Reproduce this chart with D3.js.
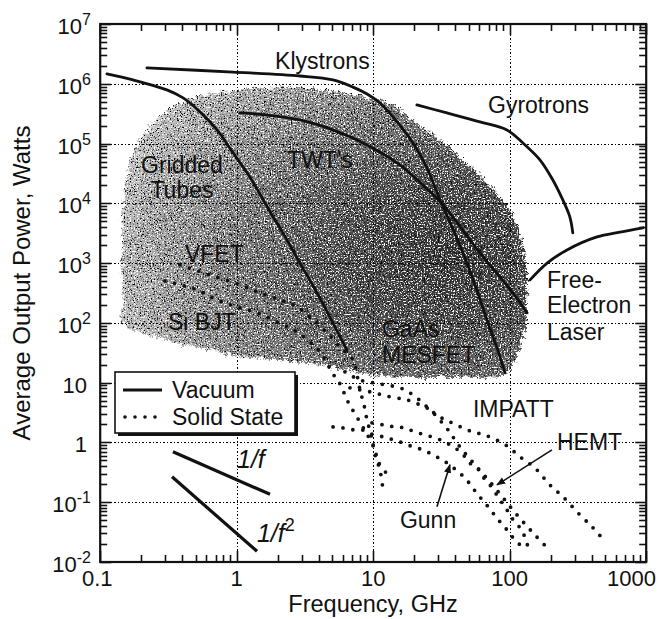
<!DOCTYPE html>
<html>
<head>
<meta charset="utf-8">
<script src="https://cdn.jsdelivr.net/npm/d3@7"></script>
<style>
  html, body { margin: 0; padding: 0; background: #fff; }
  svg { display: block; }
  text { font-family: "Liberation Sans", Arial, Helvetica, sans-serif; fill: #111; }
</style>
</head>
<body>
<svg id="chart" width="661" height="619"></svg>
<script>
// ---- Axis ticks ----
const freqTicks = [0.1, 1, 10, 100, 1000];
const freqTickLabels = ["0.1", "1", "10", "100", "1000"];
const powerTicks = [1e-2, 1e-1, 1, 10, 1e2, 1e3, 1e4, 1e5, 1e6, 1e7];
const powerTickLabels = ["10^-2", "10^-1", "1", "10", "10^2", "10^3", "10^4", "10^5", "10^6", "10^7"];

// ---- Vacuum devices: [frequency GHz, average power W] ----
const griddedTubes = [[0.112,1.46e6],[0.174,1.16e6],[0.308,7.9e5],[0.405,5.8e5],[0.538,3.4e5],[0.718,1.69e5],
  [0.94,7.0e4],[1.25,2.76e4],[1.85,5.9e3],[2.18,3.2e3],[2.91,1.0e3],[3.88,318],[5.07,100],[6.43,35]];
const klystrons = [[0.22,1.84e6],[0.94,1.57e6],[2.91,1.35e6],[5.07,1.16e6],[7.11,8.8e5],[9.02,6.75e5],[11.2,4.77e5],
  [13.96,2.8e5],[19.6,1.02e5],[24.8,3.9e4],[30.9,1.14e4],[37.8,4.03e3],[45.5,1.48e3],[55.7,432],[68.2,112],[80.7,38.2],[92.5,14.6]];
const twts = [[1.06,3.25e5],[1.67,3.0e5],[2.91,2.48e5],[5.07,1.69e5],[9.02,9.5e4],[15.7,4.4e4],[19.6,2.87e4],
  [32.4,9.4e3],[60.5,1.48e3],[105.6,318],[134,147]];
const gyrotrons = [[20.9,4.42e5],[34.7,3.25e5],[60.5,2.3e5],[95.4,1.69e5],[125,1.02e5],[167,5.3e4],[207,2.46e4],
  [245,1.14e4],[276,5.9e3],[290,3.2e3]];
const freeElectronLaser = [[141,524],[188,1.0e3],[263,1.66e3],[436,2.74e3],[643,3.3e3],[948,3.9e3]];

// ---- Solid-state devices ----
const vfet = [[0.384,933],[0.637,635],[1.057,432],[1.48,318],[2.08,243],[2.77,185],[3.44,126],[4.59,68],[5.71,39.7],
  [7.11,24],[7.61,13.5],[8.0,7.6],[8.56,4.26],[9.01,2.39],[9.63,1.34],[10.3,0.62],[11.2,0.348],[11.8,0.161]];
const siBjt = [[0.298,504],[0.512,356],[0.717,243],[1.005,185],[1.408,147],[1.97,104],[2.77,70.6],[3.44,48],[4.08,32.7],
  [5.08,14],[5.71,9.55],[6.54,4.78],[7.74,2.48],[9.16,1.29],[10.3,0.78],[10.8,0.49],[12.8,0.287]];
const impatt = [[6.21,15.2],[8.0,11.1],[11.2,9.55],[16.5,7.87],[21.3,5.36],[24.8,3.94],[29.8,2.79],[36.5,2.21],[51.2,1.56],
  [68.2,1.29],[95.5,0.877],[119,0.574],[153,0.376],[197,0.195],[246,0.123],[327,0.0615],[408,0.0373],[474,0.0254]];
const gaasMesfet = [[6.76,8.19],[9.48,7.02],[13.3,5.79],[17.7,5.16],[22.0,4.26],[26.1,3.51],[29.3,2.68],[35.3,1.63],
  [43.2,0.843],[55.7,0.422],[71.7,0.219],[89.3,0.119],[113,0.0615],[148,0.0308],[188,0.0173]];
const hemt = [[9.8,2.13],[11.8,1.97],[14.4,1.82],[17.1,1.75],[20.2,1.5],[24.0,1.34],[28.4,1.19],[33.6,1.02],[38.4,0.843],
  [44.7,0.67],[49.5,0.474],[57.6,0.376],[63.7,0.266],[71.7,0.195],[84.9,0.11],[95.5,0.0746],[106,0.0508],[119,0.0373],
  [129,0.0264],[136,0.0179]];
const gunn = [[5.08,1.82],[6.0,1.75],[7.11,1.63],[8.28,1.63],[9.16,1.45],[11.8,1.24],[14.0,1.11],[16.5,0.984],[19.6,0.843],
  [23.2,0.751],[27.4,0.62],[31.9,0.512],[36.5,0.422],[41.8,0.322],[47.0,0.256],[52.9,0.181],[58.6,0.133],[65.9,0.0977],
  [74.2,0.069],[84.9,0.047],[95.5,0.0345],[106,0.0254],[119,0.0194]];

// ---- Reference slopes ----
const slopeInvF = [[0.341,0.697],[1.754,0.1355]];
const slopeInvF2 = [[0.336,0.266],[1.409,0.0151]];

// ---- Region covered by present-day devices (outline) ----
const coverage = [[0.1444,1663],[0.1444,5272],[0.1494,1.38e4],[0.1599,3.62e4],[0.1769,7.82e4],[0.2024,1.29e5],
  [0.2395,2.05e5],[0.3086,3.51e5],[0.418,5.15e5],[0.538,6.25e5],[0.94,7.58e5],[1.667,8.51e5],[2.909,8.51e5],
  [5.076,7.58e5],[9.01,6.01e5],[13.28,4.59e5],[19.56,2.48e5],[34.7,9.12e4],[60.6,2.87e4],[95.5,9.06e3],
  [119,2.85e3],[131.7,769],[133.9,216],[125.2,63],[105.7,19.9],[84.9,13],[51.2,12],[30.9,12],[18.6,12],
  [11.2,13],[6.76,15.7],[3.44,21.4],[1.973,24],[1.112,27],[0.637,35.3],[0.365,46.3],[0.206,68.1],
  [0.1469,96.2],[0.1469,243],[0.1444,635]];

// ---- Layout ----
const svg = d3.select("#chart");
const plotL = 100.2, plotR = 646.2, plotT = 24, plotB = 562;
const x = d3.scaleLog().domain([0.1, 1000]).range([plotL, plotR]);
const y = d3.scaleLog().domain([1e-2, 1e7]).range([plotB, plotT]);
const ink = "#111";
const px = v => Math.round(v) + 0.5;

const defs = svg.append("defs");
const grad = defs.append("radialGradient").attr("id", "shade")
  .attr("cx", 0.8).attr("cy", 0.58).attr("r", 0.85);
[[0, "#333"], [0.3, "#4b4b4b"], [0.6, "#777"], [0.85, "#a4a4a4"], [1, "#c2c2c2"]].forEach(s =>
  grad.append("stop").attr("offset", s[0]).attr("stop-color", s[1]));

// stippled texture and ragged edge for the shaded region
const grain = defs.append("filter").attr("id", "grain")
  .attr("x", "-4%").attr("y", "-4%").attr("width", "108%").attr("height", "108%")
  .attr("color-interpolation-filters", "sRGB");
grain.append("feTurbulence").attr("type", "fractalNoise").attr("baseFrequency", 0.7)
  .attr("numOctaves", 2).attr("seed", 11).attr("result", "noise");
grain.append("feTurbulence").attr("type", "fractalNoise").attr("baseFrequency", 0.25)
  .attr("numOctaves", 2).attr("seed", 5).attr("result", "warp");
grain.append("feDisplacementMap").attr("in", "SourceGraphic").attr("in2", "warp").attr("scale", 10)
  .attr("xChannelSelector", "R").attr("yChannelSelector", "G").attr("result", "shifted");
grain.append("feDisplacementMap").attr("in", "shifted").attr("in2", "noise").attr("scale", 5)
  .attr("xChannelSelector", "R").attr("yChannelSelector", "G").attr("result", "base");
grain.append("feColorMatrix").attr("in", "noise").attr("type", "matrix")
  .attr("values", "0 0 0 0 1  0 0 0 0 1  0 0 0 0 1  6 0 0 0 -3.2").attr("result", "light");
grain.append("feComposite").attr("in", "light").attr("in2", "base").attr("operator", "in").attr("result", "lightIn");
grain.append("feColorMatrix").attr("in", "noise").attr("type", "matrix")
  .attr("values", "0 0 0 0 0  0 0 0 0 0  0 0 0 0 0  0 6 0 0 -3.3").attr("result", "dark");
grain.append("feComposite").attr("in", "dark").attr("in2", "base").attr("operator", "in").attr("result", "darkIn");
const merge = grain.append("feMerge");
["base", "darkIn", "lightIn"].forEach(n => merge.append("feMergeNode").attr("in", n));

const marker = defs.append("marker").attr("id", "arrow").attr("viewBox", "0 0 10 10")
  .attr("refX", 9).attr("refY", 5).attr("markerWidth", 9).attr("markerHeight", 9)
  .attr("markerUnits", "userSpaceOnUse").attr("orient", "auto");
marker.append("path").attr("d", "M0,1 L10,5 L0,9 Z").attr("fill", ink);

// shaded region
svg.append("path")
  .attr("d", d3.line().x(d => x(d[0])).y(d => y(d[1])).curve(d3.curveCatmullRomClosed.alpha(0.5))(coverage))
  .attr("fill", "url(#shade)").attr("filter", "url(#grain)");

// dotted decade grid
const grid = svg.append("g").attr("stroke", "#000").attr("stroke-width", 1)
  .attr("stroke-dasharray", "1.5 2").attr("shape-rendering", "crispEdges");
freqTicks.slice(1, -1).forEach(v =>
  grid.append("line").attr("x1", px(x(v))).attr("x2", px(x(v))).attr("y1", plotT).attr("y2", plotB));
powerTicks.slice(1, -1).forEach(v =>
  grid.append("line").attr("y1", px(y(v))).attr("y2", px(y(v))).attr("x1", plotL).attr("x2", plotR));

// inward ticks on all four sides (minor at 2..9 of each decade, longer at decades)
function minorVals(lo, hi) {
  const out = [];
  for (let e = lo; e < hi; e++) for (let m = 2; m <= 9; m++) out.push(m * Math.pow(10, e));
  return out;
}
const xTickMarks = minorVals(-1, 3).map(v => [v, 7]).concat(freqTicks.map(v => [v, 11]));
const yTickMarks = minorVals(-2, 7).map(v => [v, 7]).concat(powerTicks.map(v => [v, 11]));
const ticks = svg.append("g").attr("stroke", ink).attr("stroke-width", 1.6);
ticks.selectAll("line.yl").data(yTickMarks).join("line").attr("class", "yl")
  .attr("x1", plotL).attr("x2", d => plotL + d[1]).attr("y1", d => px(y(d[0]))).attr("y2", d => px(y(d[0])));
ticks.selectAll("line.yr").data(yTickMarks).join("line").attr("class", "yr")
  .attr("x1", plotR).attr("x2", d => plotR - d[1]).attr("y1", d => px(y(d[0]))).attr("y2", d => px(y(d[0])));
ticks.selectAll("line.xb").data(xTickMarks).join("line").attr("class", "xb")
  .attr("y1", plotB).attr("y2", d => plotB - d[1]).attr("x1", d => px(x(d[0]))).attr("x2", d => px(x(d[0])));
ticks.selectAll("line.xt").data(xTickMarks).join("line").attr("class", "xt")
  .attr("y1", plotT).attr("y2", d => plotT + d[1]).attr("x1", d => px(x(d[0]))).attr("x2", d => px(x(d[0])));

svg.append("rect").attr("x", plotL).attr("y", plotT).attr("width", plotR - plotL).attr("height", plotB - plotT)
  .attr("fill", "none").attr("stroke", ink).attr("stroke-width", 2.2);

// device curves
const curve = d3.line().x(d => x(d[0])).y(d => y(d[1])).curve(d3.curveCatmullRom.alpha(0.5));
[griddedTubes, klystrons, twts, gyrotrons, freeElectronLaser].forEach(s =>
  svg.append("path").attr("d", curve(s)).attr("fill", "none").attr("stroke", ink)
    .attr("stroke-width", 2.8).attr("stroke-linecap", "round"));
[vfet, siBjt, impatt, gaasMesfet, hemt, gunn].forEach(s =>
  svg.append("path").attr("d", curve(s)).attr("fill", "none").attr("stroke", ink)
    .attr("stroke-width", 3.8).attr("stroke-linecap", "round").attr("stroke-dasharray", "0 10"));
[slopeInvF, slopeInvF2].forEach(s =>
  svg.append("path").attr("d", d3.line().x(d => x(d[0])).y(d => y(d[1]))(s)).attr("fill", "none")
    .attr("stroke", ink).attr("stroke-width", 3.2));

// tick labels
powerTicks.forEach((v, i) => {
  const [base, exp] = powerTickLabels[i].split("^");
  const t = svg.append("text").attr("text-anchor", "end").attr("font-size", 22)
    .attr("x", exp ? 91 : 87).attr("y", y(v) + 10);
  t.append("tspan").text(base);
  if (exp) t.append("tspan").attr("font-size", 16).attr("dy", -9).text(exp);
});
freqTicks.forEach((v, i) => {
  const last = i === freqTicks.length - 1;
  svg.append("text").attr("font-size", 22).attr("y", 586)
    .attr("text-anchor", last ? "end" : "middle")
    .attr("x", last ? 656 : (i === 0 ? x(v) - 3 : x(v)))
    .text(freqTickLabels[i]);
});

// axis titles
svg.append("text").attr("font-size", 23.5).attr("text-anchor", "middle")
  .attr("x", 373).attr("y", 612).text("Frequency, GHz");
svg.append("text").attr("font-size", 24).attr("text-anchor", "middle")
  .attr("transform", "translate(30,283) rotate(-90)").text("Average Output Power, Watts");

// device labels
function label(txt, f, p, anchor) {
  svg.append("text").attr("font-size", 23).attr("text-anchor", anchor || "start")
    .attr("x", x(f)).attr("y", y(p)).text(txt);
}
label("Klystrons", 1.91, 1.77e6);
label("Gyrotrons", 69.4, 3.25e5);
label("Gridded", 0.397, 3.2e4, "middle");
label("Tubes", 0.397, 1.23e4, "middle");
label("TWT's", 2.34, 3.9e4);
label("VFET", 0.418, 1.05e3);
label("Si BJT", 0.314, 76);
label("GaAs", 11.6, 58);
label("MESFET", 11.6, 21.4);
label("Free-", 187.5, 385);
label("Electron", 187.5, 147);
label("Laser", 187.5, 52);
label("IMPATT", 53.8, 2.68);
label("HEMT", 222, 0.75);
label("Gunn", 15.7, 0.0373);

// slope labels
const s1 = svg.append("text").attr("font-family", "'Liberation Serif', 'Times New Roman', serif")
  .attr("font-style", "italic").attr("font-size", 25).attr("x", x(1.005)).attr("y", y(0.376));
s1.append("tspan").text("1/f");
const s2 = svg.append("text").attr("font-family", "'Liberation Serif', 'Times New Roman', serif")
  .attr("font-style", "italic").attr("font-size", 25).attr("x", x(1.408)).attr("y", y(0.0218));
s2.append("tspan").text("1/f");
s2.append("tspan").attr("font-size", 18).attr("dy", -11).attr("font-style", "normal").text("2");

// pointers
[[[204, 0.752], [80.7, 0.195]], [[29.3, 0.0838], [36.5, 0.422]]].forEach(a =>
  svg.append("line").attr("x1", x(a[0][0])).attr("y1", y(a[0][1]))
    .attr("x2", x(a[1][0])).attr("y2", y(a[1][1]))
    .attr("stroke", ink).attr("stroke-width", 1.6).attr("marker-end", "url(#arrow)"));

// legend
const lg = svg.append("g").attr("transform", "translate(115,372)");
lg.append("rect").attr("x", 3).attr("y", 3).attr("width", 180).attr("height", 61).attr("fill", ink);
lg.append("rect").attr("width", 180).attr("height", 61).attr("fill", "#fff")
  .attr("stroke", ink).attr("stroke-width", 1.6);
lg.append("line").attr("x1", 8).attr("x2", 47).attr("y1", 18).attr("y2", 18)
  .attr("stroke", ink).attr("stroke-width", 2.8);
lg.append("line").attr("x1", 10).attr("x2", 47).attr("y1", 45).attr("y2", 45)
  .attr("stroke", ink).attr("stroke-width", 3.6).attr("stroke-linecap", "round").attr("stroke-dasharray", "0 10");
lg.append("text").attr("x", 57).attr("y", 26).attr("font-size", 23).text("Vacuum");
lg.append("text").attr("x", 57).attr("y", 53).attr("font-size", 23).text("Solid State");
</script>
</body>
</html>
